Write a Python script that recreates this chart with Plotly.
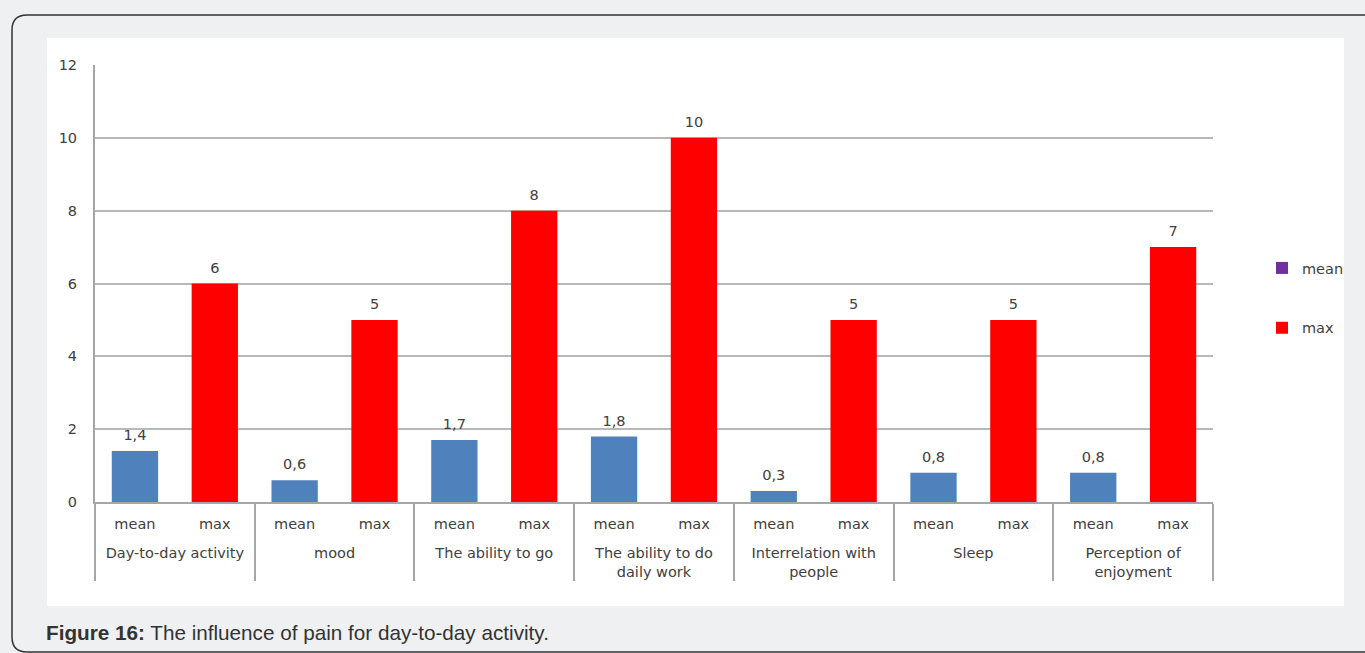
import plotly.graph_objects as go

groups = ["Day-to-day activity", "mood", "The ability to go",
          "The ability to do<br>daily work", "Interrelation with<br>people",
          "Sleep", "Perception of<br>enjoyment"]
mean_vals = [1.4, 0.6, 1.7, 1.8, 0.3, 0.8, 0.8]
max_vals = [6, 5, 8, 10, 5, 5, 7]
y_ticks = [0, 2, 4, 6, 8, 10, 12]

W, H = 1365, 653
L, R, T, B = 95, 152, 65, 151
PW, PH = W - L - R, H - T - B

def fx(p):
    return (p - L) / PW

def fy(p):
    return (H - B - p) / PH

def lab(v):
    return str(v).replace(".", ",")

TXT = "#404040"
FONT = "DejaVu Sans"
FS = 14.5

# outer category labels sit one line lower under the "mean"/"max" row
outer = ["<br>" + g for g in groups]

fig = go.Figure()
for vals, sub, col in [(mean_vals, "mean", "#4f81bd"), (max_vals, "max", "#ff0000")]:
    xs = [outer, [sub] * len(groups)]
    fig.add_trace(go.Bar(
        x=xs, y=vals, marker=dict(color=col, line=dict(width=0)), width=0.58,
        showlegend=False, name=sub))
    # value labels above the bars
    fig.add_trace(go.Scatter(
        x=xs, y=vals, mode="markers+text", text=[lab(v) for v in vals],
        textposition="top center", marker=dict(size=10, opacity=0),
        textfont=dict(size=FS, color=TXT, family=FONT), cliponaxis=False,
        showlegend=False, hoverinfo="skip"))
# legend keys (the original legend shows a purple key for "mean")
fig.add_trace(go.Bar(x=[[outer[0]], ["mean"]], y=[0], name="mean",
                     marker=dict(color="#7030a0", line=dict(width=0)),
                     legendgroup="a", hoverinfo="skip"))
fig.add_trace(go.Bar(x=[[outer[0]], ["max"]], y=[0], name="max",
                     marker=dict(color="#ff0000", line=dict(width=0)),
                     legendgroup="b", hoverinfo="skip"))

shapes = [
    dict(type="rect", xref="paper", yref="paper", layer="below",
         x0=fx(47), x1=fx(1344), y0=fy(606), y1=fy(38),
         fillcolor="white", line=dict(width=0)),
]
r = 15
x0, y0, x1, y1 = 12, 15, 1400, 652
path = (f"M {fx(x0)},{fy(y0 + r)} Q {fx(x0)},{fy(y0)} {fx(x0 + r)},{fy(y0)} "
        f"L {fx(x1)},{fy(y0)} L {fx(x1)},{fy(y1)} L {fx(x0 + r)},{fy(y1)} "
        f"Q {fx(x0)},{fy(y1)} {fx(x0)},{fy(y1 - r)} Z")
shapes.append(dict(type="path", xref="paper", yref="paper", layer="below",
                   path=path, line=dict(color="#333333", width=1.5)))

n_slots = 2 * len(groups)

fig.update_layout(
    width=W, height=H,
    margin=dict(l=L, r=R, t=T, b=B),
    paper_bgcolor="#eff0f2", plot_bgcolor="white",
    barmode="overlay",
    font=dict(family=FONT, size=FS, color=TXT),
    shapes=shapes,
    legend=dict(x=fx(1262), xanchor="left", y=fy(252), yanchor="top",
                bgcolor="rgba(0,0,0,0)", font=dict(size=FS, color=TXT),
                tracegroupgap=38),
    annotations=[dict(
        xref="paper", yref="paper", x=fx(44), y=fy(632), xanchor="left",
        yanchor="middle", showarrow=False,
        text="<b>Figure 16:</b> The influence of pain for day-to-day activity.",
        font=dict(family="Liberation Sans", size=20.7, color="#333333"))],
    xaxis=dict(type="multicategory", range=[-0.5, n_slots - 0.5],
               showline=True, linecolor="#a6a6a6",
               linewidth=2, showdividers=True, dividercolor="#a6a6a6",
               dividerwidth=2, tickfont=dict(size=FS, color=TXT),
               showgrid=False, ticklabelstandoff=8),
    yaxis=dict(range=[0, 12], tickvals=y_ticks, showline=True,
               linecolor="#a6a6a6", linewidth=2, showgrid=True,
               gridcolor="#b8b8b8", gridwidth=1.5, zeroline=False,
               ticks="", ticklabelstandoff=13,
               tickfont=dict(size=FS, color=TXT)),
)

fig.write_html("out.html")
